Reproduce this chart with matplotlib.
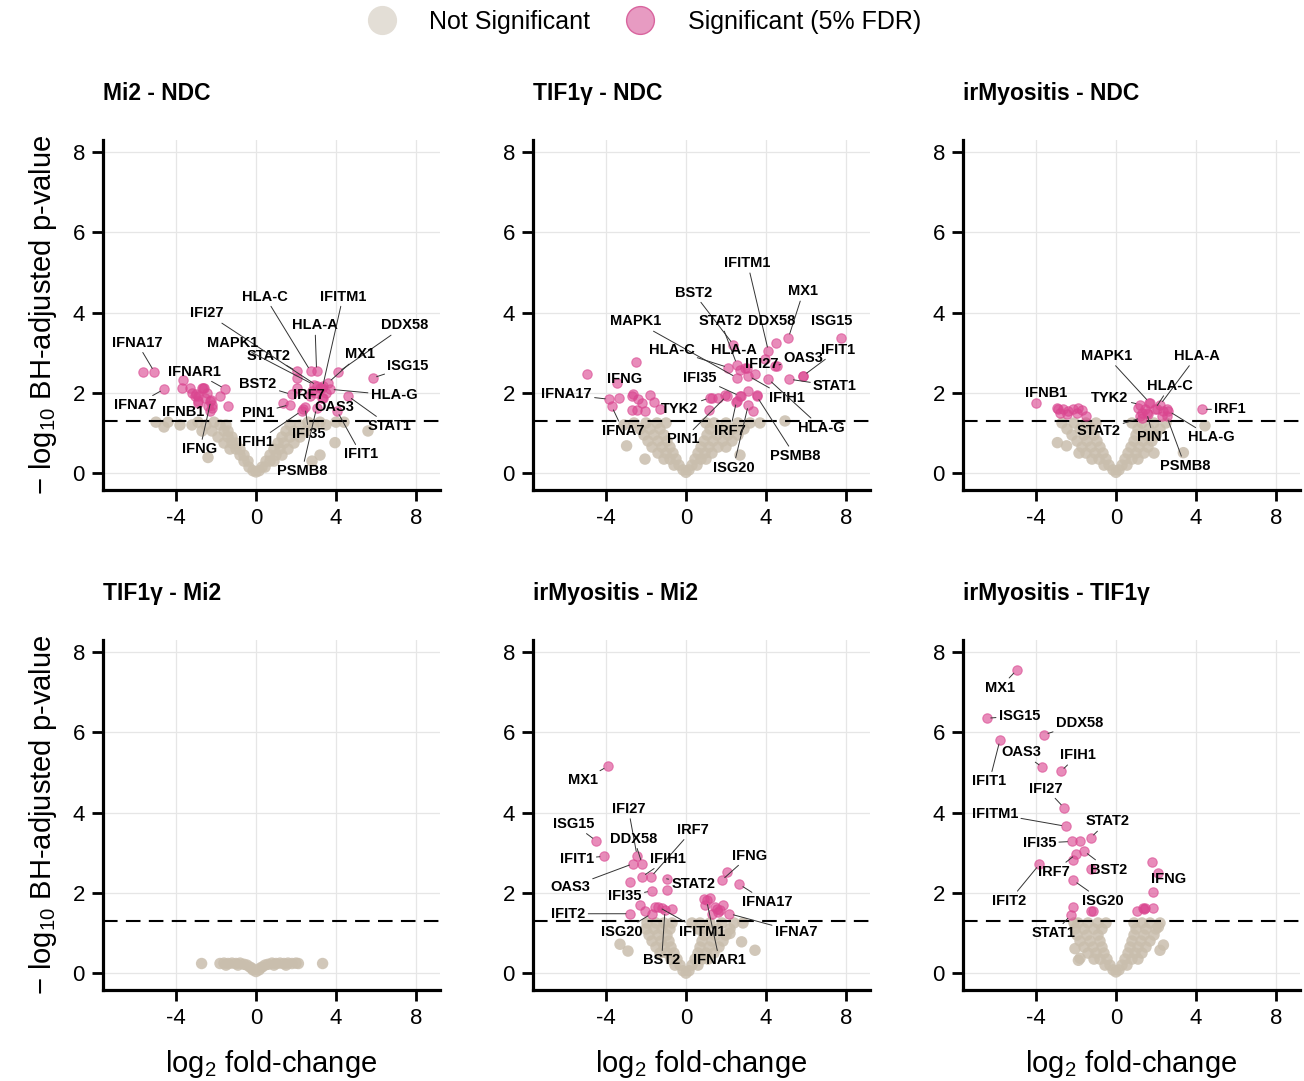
import numpy as np
import matplotlib
matplotlib.use("Agg")
import matplotlib.pyplot as plt
from matplotlib.lines import Line2D

plt.rcParams['font.family'] = ['Liberation Sans', 'DejaVu Sans']
plt.rcParams['axes.unicode_minus'] = False
plt.rcParams['mathtext.fontset'] = 'custom'
plt.rcParams['mathtext.rm'] = 'Liberation Sans'
plt.rcParams['mathtext.it'] = 'Liberation Sans:italic'

NS_COLOR = '#C9BEAD'
SIG_COLOR = '#DA4690'
FDR_LINE = -np.log10(0.05)

# ---------------- Mi2 - NDC ----------------
p1_ns_x = [0, -0.15, 0.15, -0.35, 0.3, 0.45, -0.6, -0.4, 0.5, 0.7, 0.9,
           -0.8, -0.6, 0.7, 1.0, 1.3, -1.0, -0.8, -1.3, 0.9, 1.2, 1.6,
           -1.2, -1.0, -1.6, 1.1, 1.4, 1.9, -1.4, -1.2, -1.9, 1.3, 1.7, 2.2,
           -1.6, -1.4, -2.2, -2.7, 1.5, 1.9, 2.5,
           -1.8, -1.5, -2.5, -3.2, -3.8, 1.7, 2.2, 2.9, 3.5,
           -4.4, -5.0, -2.9, -2.1, 2.6, 3.2, 4.0, 4.4,
           5.6, 2.8, 3.95, -2.4, 3.2, -4.6]
p1_ns_y = [0.03, 0.06, 0.06, 0.15, 0.15, 0.15, 0.3, 0.3, 0.3, 0.3, 0.3,
           0.45, 0.45, 0.45, 0.45, 0.45, 0.6, 0.6, 0.6, 0.6, 0.6, 0.6,
           0.75, 0.75, 0.75, 0.75, 0.75, 0.75, 0.9, 0.9, 0.9, 0.9, 0.9, 0.9,
           1.05, 1.05, 1.05, 1.05, 1.05, 1.05, 1.05,
           1.2, 1.2, 1.2, 1.2, 1.2, 1.2, 1.2, 1.2, 1.2,
           1.27, 1.27, 1.27, 1.27, 1.27, 1.27, 1.27, 1.27,
           1.05, 0.3, 0.76, 0.39, 0.45, 1.15]
p1_sig_x = [-5.67, -3.72, -3.3, -2.72, -2.6, -3.63, -3.05, -2.9, -2.3, -2.38, -2.22,
            -1.8, -1.38, -2.47, -3.22, -3.0, -2.63, -2.88, -2.55, -2.22, -2.3,
            2.03, 2.03, 3.2, 3.37, 1.37, 2.37, 3.28, 2.7, 2.95, 3.5]
p1_sig_y = [2.53, 2.13, 2.13, 2.13, 2.13, 2.33, 1.92, 1.92, 1.8, 1.67, 1.63,
            1.92, 1.67, 2.0, 2.0, 1.96, 2.13, 1.8, 1.88, 1.71, 1.55,
            2.38, 2.13, 2.13, 2.17, 1.75, 1.59, 1.88, 1.92, 2.0, 2.0]
p1_genes = ['IFNA17', 'IFNA7', 'IFNAR1', 'IFNB1', 'IFNG', 'STAT2', 'HLA-C', 'HLA-A',
            'IFITM1', 'DDX58', 'MX1', 'ISG15', 'IFI27', 'MAPK1', 'BST2', 'IRF7',
            'HLA-G', 'STAT1', 'OAS3', 'IFIT1', 'PIN1', 'IFIH1', 'IFI35', 'PSMB8']
p1_gx = [-5.08, -4.6, -1.55, -2.9, -2.25, 2.03, 2.73, 3.03, 3.32, 4.12, 3.6, 5.83,
         3.05, 2.9, 1.78, 2.8, 3.7, 4.6, 3.35, 4.05, 1.7, 2.28, 2.45, 3.03]
p1_gy = [2.52, 2.09, 2.1, 1.75, 1.82, 2.54, 2.54, 2.54, 2.13, 2.52, 2.25, 2.37,
         2.18, 2.2, 1.96, 2.05, 2.09, 1.92, 1.88, 1.55, 1.71, 1.55, 1.65, 1.63]

# ---------------- TIF1g - NDC ----------------
p2_ns_x = [0, -0.15, 0.15, -0.35, -0.6, 0.3, 0.55,
           -0.5, -0.8, -1.1, 0.45, 0.75, 1.0,
           -0.65, -1.0, -1.4, 0.6, 0.95, 1.3,
           -0.8, -1.2, -1.7, 0.75, 1.15, 1.6, 2.0,
           -0.95, -1.4, -1.9, 0.9, 1.35, 1.85, 2.3,
           -1.1, -1.6, -2.1, 1.05, 1.55, 2.1, 2.6,
           -1.3, -1.8, -2.3, 1.2, 1.75, 2.35, 2.9,
           -1.0, -1.45, -2.0, -2.6, 1.0, 1.4, 2.0, 2.6, 3.2, 3.7,
           -2.97, -2.05, 4.95, 2.7, -3.1]
p2_ns_y = [0.02, 0.08, 0.08, 0.2, 0.2, 0.2, 0.2,
           0.35, 0.35, 0.35, 0.35, 0.35, 0.35,
           0.5, 0.5, 0.5, 0.5, 0.5, 0.5,
           0.65, 0.65, 0.65, 0.65, 0.65, 0.65, 0.65,
           0.8, 0.8, 0.8, 0.8, 0.8, 0.8, 0.8,
           0.95, 0.95, 0.95, 0.95, 0.95, 0.95, 0.95,
           1.1, 1.1, 1.1, 1.1, 1.1, 1.1, 1.1,
           1.25, 1.25, 1.25, 1.25, 1.25, 1.25, 1.25, 1.25, 1.25, 1.25,
           0.68, 0.35, 1.3, 0.45, 1.2]
p2_sig_x = [-4.93, -2.5, -3.33, -2.72, -2.38, -2.22, -1.8, -1.6, -1.3, -2.72, -2.47,
            -2.05, -3.47, 1.17, 1.28, 1.62, 1.95, 2.5, 2.73, 3.12, 3.33, 3.53,
            5.83, 3.95, 4.53, 2.95, 2.7]
p2_sig_y = [2.46, 2.77, 1.88, 1.92, 1.84, 1.76, 1.94, 1.78, 1.61, 1.58, 1.58,
            1.55, 2.25, 1.57, 1.88, 1.88, 1.94, 1.78, 1.91, 2.04, 1.55, 1.94,
            2.43, 2.85, 2.68, 2.63, 2.58]
p2_genes = ['IFITM1', 'BST2', 'MX1', 'MAPK1', 'STAT2', 'DDX58', 'ISG15', 'HLA-C',
            'HLA-A', 'IFIT1', 'IFI27', 'OAS3', 'IFNG', 'IFI35', 'STAT1', 'IFNA17',
            'IFIH1', 'TYK2', 'HLA-G', 'IFNA7', 'PIN1', 'IRF7', 'PSMB8', 'ISG20']
p2_gx = [4.12, 2.37, 5.12, 2.53, 2.55, 4.5, 7.73, 2.12, 3.03, 5.87, 3.45, 4.45,
         -2.63, 2.7, 5.17, -3.83, 3.12, 1.2, 4.12, -3.72, 2.03, 2.53, 3.53, 3.12]
p2_gy = [3.04, 3.2, 3.37, 2.38, 2.7, 3.25, 3.37, 2.63, 2.63, 2.43, 2.46, 2.67,
         1.96, 1.92, 2.34, 1.84, 2.42, 1.88, 2.34, 1.67, 1.92, 1.8, 1.92, 1.71]

# ---------------- irMyositis - NDC ----------------
p3_ns_x = [0, -0.15, 0.15, -0.35, -0.6, 0.3, 0.55,
           -0.5, -0.85, -1.2, 0.45, 0.8, 1.1,
           -0.65, -1.05, -1.5, -1.85, 0.6, 1.0, 1.4, 1.9,
           -0.8, -1.25, -1.7, 0.75, 1.15, 1.6,
           -0.95, -1.45, -1.95, 0.9, 1.35, 1.8,
           -1.1, -1.6, -2.2, 1.0, 1.5, 2.0,
           -1.2, -1.8, -2.45, 1.1, 1.65, 2.2,
           -1.0, -1.5, -2.1, -2.7, 0.8, 1.3, 1.9, 2.5,
           -2.93, 4.45, 3.37, -2.47]
p3_ns_y = [0.02, 0.08, 0.08, 0.2, 0.2, 0.2, 0.2,
           0.35, 0.35, 0.35, 0.35, 0.35, 0.35,
           0.5, 0.5, 0.5, 0.5, 0.5, 0.5, 0.5, 0.5,
           0.65, 0.65, 0.65, 0.65, 0.65, 0.65,
           0.8, 0.8, 0.8, 0.8, 0.8, 0.8,
           0.95, 0.95, 0.95, 0.95, 0.95, 0.95,
           1.1, 1.1, 1.1, 1.1, 1.1, 1.1,
           1.25, 1.25, 1.25, 1.25, 1.25, 1.25, 1.25, 1.25,
           0.76, 1.18, 0.51, 0.68]
p3_sig_x = [-4.0, -2.97, -2.63, -2.38, -2.13, -1.88, -1.72, -1.97, -2.47, -2.8, -1.5,
            1.12, 1.28, 1.45, 1.62, 1.7, 2.03, 2.37, 2.53, 2.28, 1.2]
p3_sig_y = [1.76, 1.63, 1.59, 1.55, 1.59, 1.63, 1.57, 1.51, 1.47, 1.51, 1.42,
            1.63, 1.51, 1.59, 1.47, 1.76, 1.59, 1.55, 1.59, 1.42, 1.42]
p3_genes = ['IFNB1', 'MAPK1', 'HLA-A', 'HLA-C', 'TYK2', 'IRF1', 'STAT2', 'PIN1',
            'HLA-G', 'PSMB8']
p3_gx = [-2.88, 1.67, 2.2, 1.95, 1.2, 4.32, 1.28, 1.53, 2.62, 2.53]
p3_gy = [1.59, 1.76, 1.7, 1.6, 1.71, 1.59, 1.38, 1.51, 1.55, 1.42]

# ---------------- TIF1g - Mi2 ----------------
p4_ns_x = [-2.72, -1.8, -1.6, -1.4, -1.2, -1.0, -0.8, -0.6, -0.45, -0.3, -0.15, 0,
           0.15, 0.3, 0.45, 0.6, 0.8, 1.0, 1.2, 1.4, 1.6, 1.8, 2.0, 2.12, 3.33,
           -1.5, -0.9, 0.9, 1.5, -0.2, 0.2]
p4_ns_y = [0.24, 0.24, 0.25, 0.24, 0.25, 0.24, 0.25, 0.22, 0.2, 0.15, 0.08, 0.04,
           0.08, 0.15, 0.2, 0.22, 0.25, 0.24, 0.25, 0.24, 0.25, 0.24, 0.25, 0.24, 0.24,
           0.2, 0.2, 0.2, 0.2, 0.12, 0.12]

# ---------------- irMyositis - Mi2 ----------------
p5_ns_x = [0, -0.15, 0.15, -0.3, -0.55, 0.3, 0.6,
           -0.45, -0.75, 0.45, 0.8, 1.1,
           -0.6, -0.95, -1.3, 0.6, 1.0, 1.4,
           -0.75, -1.1, -1.5, 0.7, 1.15, 1.65,
           -0.85, -1.25, -1.7, 0.8, 1.3, 1.85,
           -0.95, -1.4, -1.85, 0.9, 1.45, 2.0,
           -0.8, -1.2, -1.6, -2.0, 0.6, 1.0, 1.6, 2.2,
           -0.7, -1.1, -1.5, -1.95, 0.3, 0.7, 1.2, 1.8, 2.4, 2.85,
           -3.3, 2.2, 2.78, 3.45, -2.9]
p5_ns_y = [0.0, 0.06, 0.06, 0.2, 0.2, 0.2, 0.2,
           0.35, 0.35, 0.35, 0.35, 0.35,
           0.5, 0.5, 0.5, 0.5, 0.5, 0.5,
           0.65, 0.65, 0.65, 0.65, 0.65, 0.65,
           0.8, 0.8, 0.8, 0.8, 0.8, 0.8,
           0.95, 0.95, 0.95, 0.95, 0.95, 0.95,
           1.1, 1.1, 1.1, 1.1, 1.1, 1.1, 1.1, 1.1,
           1.25, 1.25, 1.25, 1.25, 1.25, 1.25, 1.25, 1.25, 1.25, 1.25,
           0.72, 0.99, 0.78, 0.57, 0.55]
p5_sig_x = [-2.8, -2.3, -0.97, -0.72, -1.55, -2.05, -1.2, 1.2, 0.95, 1.45, 1.62,
            1.87, 1.28, 1.55, 1.7, 0.9, 2.03]
p5_sig_y = [2.27, 1.69, 2.06, 1.61, 1.65, 1.55, 1.62, 1.86, 1.69, 1.65, 1.52,
            1.69, 1.48, 1.6, 1.58, 1.85, 2.52]
p5_genes = ['MX1', 'IFI27', 'ISG15', 'IRF7', 'DDX58', 'IFIT1', 'IFIH1', 'IFNG',
            'OAS3', 'STAT2', 'IFNA17', 'IFI35', 'IFIT2', 'ISG20', 'IFITM1', 'IFNA7',
            'BST2', 'IFNAR1']
p5_gx = [-3.92, -2.45, -4.5, -1.75, -2.2, -4.1, -2.2, 1.78, -2.63, -0.97, 2.67,
         -1.72, -2.8, -1.72, -1.38, 2.17, -1.05, 1.03]
p5_gy = [5.15, 2.93, 3.3, 2.4, 2.73, 2.91, 2.4, 2.31, 2.73, 2.35, 2.21,
         2.05, 1.48, 1.48, 1.65, 1.48, 1.57, 1.81]

# ---------------- irMyositis - TIF1g ----------------
p6_ns_x = [0, -0.15, 0.15, -0.3, -0.55, 0.3, 0.55,
           -0.45, -0.8, -1.1, 0.45, 0.8, 1.1,
           -0.6, -1.0, -1.4, 0.6, 0.95, 1.3,
           -0.7, -1.15, -1.6, 0.7, 1.1, 1.5,
           -0.8, -1.3, -1.8, 0.8, 1.25, 1.7,
           -0.9, -1.45, -1.95, 0.9, 1.4, 1.9,
           -0.7, -1.1, -1.6, -2.05, 1.0, 1.5, 2.0,
           -0.5, -0.9, -1.4, -1.9, -2.1, 0.9, 1.3, 1.7, 2.2,
           -2.05, 2.2, -1.8, 2.37, 2.12, -1.88]
p6_ns_y = [0.03, 0.08, 0.08, 0.2, 0.2, 0.2, 0.2,
           0.35, 0.35, 0.35, 0.35, 0.35, 0.35,
           0.5, 0.5, 0.5, 0.5, 0.5, 0.5,
           0.65, 0.65, 0.65, 0.65, 0.65, 0.65,
           0.8, 0.8, 0.8, 0.8, 0.8, 0.8,
           0.95, 0.95, 0.95, 0.95, 0.95, 0.95,
           1.1, 1.1, 1.1, 1.1, 1.1, 1.1, 1.1,
           1.25, 1.25, 1.25, 1.25, 1.25, 1.25, 1.25, 1.25, 1.25,
           0.61, 0.57, 0.37, 0.7, 1.15, 0.32]
p6_sig_x = [-1.8, -2.17, -1.27, -2.17, -1.27, -1.13, 1.78, 1.83, 1.03, 1.33, 1.45,
            1.87, 1.4]
p6_sig_y = [3.28, 2.82, 2.6, 1.65, 1.55, 1.55, 2.78, 2.02, 1.55, 1.63, 1.62,
            1.63, 1.6]
p6_genes = ['MX1', 'ISG15', 'DDX58', 'IFIT1', 'OAS3', 'IFIH1', 'IFI27', 'IFITM1',
            'STAT2', 'IFI35', 'BST2', 'IRF7', 'IFIT2', 'ISG20', 'STAT1', 'IFNG']
p6_gx = [-4.97, -6.47, -3.6, -5.8, -3.68, -2.75, -2.6, -2.52, -1.27, -2.22, -1.6,
         -2.0, -3.83, -2.13, -2.27, 2.12]
p6_gy = [7.55, 6.35, 5.94, 5.81, 5.13, 5.03, 4.12, 3.66, 3.37, 3.28, 3.04,
         2.96, 2.71, 2.31, 1.44, 2.49]

# label placement (text centre, data units) -- layout only
p1_label_pos = {'IFNA17': (-5.95, 3.25), 'IFNA7': (-6.05, 1.69), 'IFNAR1': (-3.1, 2.53),
                'IFNB1': (-3.65, 1.52), 'IFNG': (-2.8, 0.6), 'STAT2': (0.65, 2.93),
                'HLA-C': (0.45, 4.40), 'HLA-A': (2.95, 3.68), 'IFITM1': (4.35, 4.40),
                'DDX58': (7.45, 3.68), 'MX1': (5.2, 2.96), 'ISG15': (7.6, 2.66),
                'IFI27': (-2.45, 3.98), 'MAPK1': (-1.15, 3.25), 'BST2': (0.1, 2.21),
                'IRF7': (2.65, 1.94), 'HLA-G': (6.9, 1.94), 'STAT1': (6.7, 1.17),
                'OAS3': (3.9, 1.66), 'IFIT1': (5.25, 0.47), 'PIN1': (0.1, 1.49),
                'IFIH1': (0.0, 0.77), 'IFI35': (2.65, 0.97), 'PSMB8': (2.3, 0.05)}
p2_label_pos = {'IFITM1': (3.08, 5.23), 'BST2': (0.37, 4.5), 'MX1': (5.87, 4.53),
                'MAPK1': (-2.5, 3.78), 'STAT2': (1.73, 3.78), 'DDX58': (4.28, 3.78),
                'ISG15': (7.28, 3.78), 'HLA-C': (-0.72, 3.08), 'HLA-A': (2.4, 3.08),
                'IFIT1': (7.62, 3.08), 'IFI27': (3.78, 2.71), 'OAS3': (5.87, 2.87),
                'IFNG': (-3.05, 2.34), 'IFI35': (0.7, 2.38), 'STAT1': (7.45, 2.17),
                'IFNA17': (-5.97, 1.96), 'IFIH1': (5.03, 1.88), 'TYK2': (-0.3, 1.61),
                'HLA-G': (6.78, 1.13), 'IFNA7': (-3.13, 1.05), 'PIN1': (-0.13, 0.84),
                'IRF7': (2.2, 1.05), 'PSMB8': (5.45, 0.43), 'ISG20': (2.37, 0.14)}
p3_label_pos = {'IFNB1': (-3.47, 2.0), 'MAPK1': (-0.47, 2.92), 'HLA-A': (4.03, 2.92),
                'HLA-C': (2.7, 2.17), 'TYK2': (-0.3, 1.88), 'IRF1': (5.7, 1.59),
                'STAT2': (-0.88, 1.05), 'PIN1': (1.87, 0.89), 'HLA-G': (4.78, 0.89),
                'PSMB8': (3.45, 0.18)}
p5_label_pos = {'MX1': (-5.17, 4.8), 'IFI27': (-2.88, 4.09), 'ISG15': (-5.63, 3.72),
                'IRF7': (0.33, 3.57), 'DDX58': (-2.6, 3.35), 'IFIT1': (-5.47, 2.85),
                'IFIH1': (-0.88, 2.85), 'IFNG': (3.17, 2.93), 'OAS3': (-5.8, 2.14),
                'STAT2': (0.37, 2.23), 'IFNA17': (4.07, 1.77), 'IFI35': (-3.05, 1.91),
                'IFIT2': (-5.88, 1.48), 'ISG20': (-3.22, 1.03), 'IFITM1': (0.83, 1.03),
                'IFNA7': (5.5, 1.03), 'BST2': (-1.22, 0.32), 'IFNAR1': (1.67, 0.32)}
p6_label_pos = {'MX1': (-5.8, 7.11), 'ISG15': (-4.83, 6.41), 'DDX58': (-1.83, 6.22),
                'IFIT1': (-6.33, 4.78), 'OAS3': (-4.72, 5.5), 'IFIH1': (-1.92, 5.43),
                'IFI27': (-3.5, 4.6), 'IFITM1': (-6.05, 3.97), 'STAT2': (-0.43, 3.78),
                'IFI35': (-3.83, 3.24), 'BST2': (-0.38, 2.58), 'IRF7': (-3.13, 2.52),
                'IFIT2': (-5.33, 1.8), 'ISG20': (-0.67, 1.8), 'STAT1': (-3.1, 0.99),
                'IFNG': (2.62, 2.35)}

panels = [
    ('Mi2 - NDC', p1_ns_x, p1_ns_y, p1_sig_x, p1_sig_y, p1_genes, p1_gx, p1_gy, p1_label_pos),
    ('TIF1γ - NDC', p2_ns_x, p2_ns_y, p2_sig_x, p2_sig_y, p2_genes, p2_gx, p2_gy, p2_label_pos),
    ('irMyositis - NDC', p3_ns_x, p3_ns_y, p3_sig_x, p3_sig_y, p3_genes, p3_gx, p3_gy, p3_label_pos),
    ('TIF1γ - Mi2', p4_ns_x, p4_ns_y, [], [], [], [], [], {}),
    ('irMyositis - Mi2', p5_ns_x, p5_ns_y, p5_sig_x, p5_sig_y, p5_genes, p5_gx, p5_gy, p5_label_pos),
    ('irMyositis - TIF1γ', p6_ns_x, p6_ns_y, p6_sig_x, p6_sig_y, p6_genes, p6_gx, p6_gy, p6_label_pos),
]

W, H = 1304, 1081
fig = plt.figure(figsize=(W / 100, H / 100), dpi=100)

col_left = [103, 533, 963]
row_top = [140, 640]
ax_w, ax_h = 337, 350

for i, (title, nsx, nsy, sx, sy, genes, gx, gy, lpos) in enumerate(panels):
    r, c = divmod(i, 3)
    ax = fig.add_axes([col_left[c] / W, 1 - (row_top[r] + ax_h) / H, ax_w / W, ax_h / H])
    ax.set_xlim(-7.65, 9.2)
    ax.set_ylim(-0.42, 8.3)
    ax.set_xticks([-4, 0, 4, 8])
    ax.set_yticks([0, 2, 4, 6, 8])
    ax.grid(True, color='#E6E6E6', lw=0.9)
    ax.set_axisbelow(True)
    for s in ['top', 'right']:
        ax.spines[s].set_visible(False)
    for s in ['left', 'bottom']:
        ax.spines[s].set_linewidth(2.3)
    ax.tick_params(direction='out', length=8, width=2, labelsize=16, pad=5, colors='black')

    # not significant cloud
    ax.scatter(nsx, nsy, s=68, color=NS_COLOR, alpha=0.85, edgecolors='none', zorder=2)
    ax.axhline(FDR_LINE, color='black', lw=1.5, ls=(0, (7, 4)), zorder=3)
    allx = list(sx) + list(gx)
    ally = list(sy) + list(gy)
    if allx:
        ax.scatter(allx, ally, s=46, facecolor=SIG_COLOR, alpha=0.62,
                   edgecolors=SIG_COLOR, linewidths=0.8, zorder=4)

    for g, x, y in zip(genes, gx, gy):
        tx, ty = lpos[g]
        dist = np.hypot((tx - x) * 20, (ty - y) * 40)
        props = dict(arrowstyle='-', color='#333333', lw=0.7, shrinkA=0, shrinkB=3)
        ax.annotate(g, xy=(x, y), xytext=(tx, ty), ha='center', va='center',
                    fontsize=10.5, fontweight='bold', zorder=6,
                    arrowprops=props if dist > 22 else None)

    ax.text(0.0, 1.134, title, transform=ax.transAxes, ha='left', va='center',
            fontsize=16.5, fontweight='bold')

    if r == 1:
        ax.set_xlabel('log$_2$ fold-change', fontsize=21, labelpad=14)
    if c == 0:
        ax.set_ylabel('− log$_{10}$ BH-adjusted p-value', fontsize=21, labelpad=10)

handles = [Line2D([], [], ls='none', marker='o', markersize=20, markerfacecolor='#E3DED6',
                  markeredgecolor='#E3DED6'),
           Line2D([], [], ls='none', marker='o', markersize=20, markerfacecolor='#E79BC2',
                  markeredgecolor='#D9649E', markeredgewidth=1)]
fig.legend(handles, ['Not Significant', 'Significant (5% FDR)'], loc='center',
           bbox_to_anchor=(0.49, 1 - 22 / H), ncol=2, frameon=False, fontsize=18,
           handletextpad=0.9, columnspacing=1.0)

fig.savefig('out.png', dpi=100)
